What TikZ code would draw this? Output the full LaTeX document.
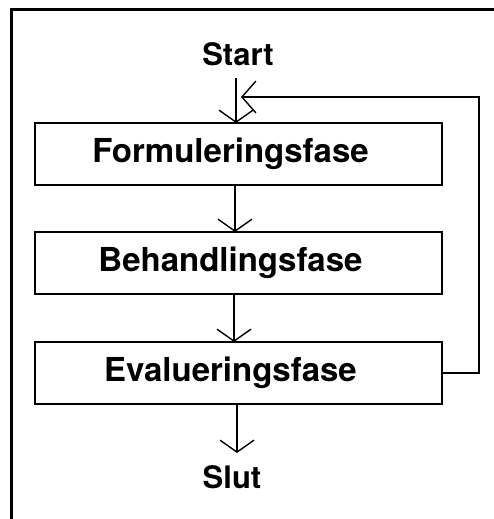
\documentclass[tikz,border=0pt]{standalone}
\usepackage{fontspec}
\setmainfont{TeX Gyre Heros}
\usetikzlibrary{arrows.meta}
% label set a little left of the box centre
\newcommand{\phaselabel}[1]{#1\kern16pt}
\begin{document}
\begin{tikzpicture}[x=1pt,y=-1pt,
  phase/.style={draw, line width=2pt, minimum width=407pt, minimum height=62pt,
    inner sep=0pt, font=\bfseries\fontsize{33}{36}\selectfont},
  term/.style={inner sep=0pt, font=\bfseries\fontsize{31}{34}\selectfont},
  flow/.style={line width=1.4pt, -{Straight Barb[length=12pt,width=34pt]}},
  back/.style={line width=1.4pt, -{Straight Barb[length=14pt,width=32pt]}}]
  \useasboundingbox (0,0) rectangle (493,519);
  % outer frame (runs off the page at right and bottom)
  \draw[line width=3pt] (11,530) -- (11,10) -- (505,10);

  \node[term]  (start) at (238,54)   {Start};
  \node[phase] (f1)    at (238.5,154) {\phaselabel{Formuleringsfase}};
  \node[phase] (f2)    at (238.5,262.5) {\phaselabel{Behandlingsfase}};
  \node[phase] (f3)    at (238.5,372.5) {\phaselabel{Evalueringsfase}};
  \node[term]  (slut)  at (232,477)  {Slut};

  % feedback loop from evaluation back to the top
  \coordinate (rt) at (479,373);
  \coordinate (rb) at (479,97);
  \coordinate (fb) at (241,97);

  \draw[flow] (236,78) -- (236,123);
  \draw[flow] (235,185) -- (235,232);
  \draw[flow] (234,293) -- (234,342);
  \draw[flow] (237,403) -- (237,453);
  \draw[back] (f3.east |- rt) -- (rt) -- (rb) -- (fb);
\end{tikzpicture}
\end{document}
